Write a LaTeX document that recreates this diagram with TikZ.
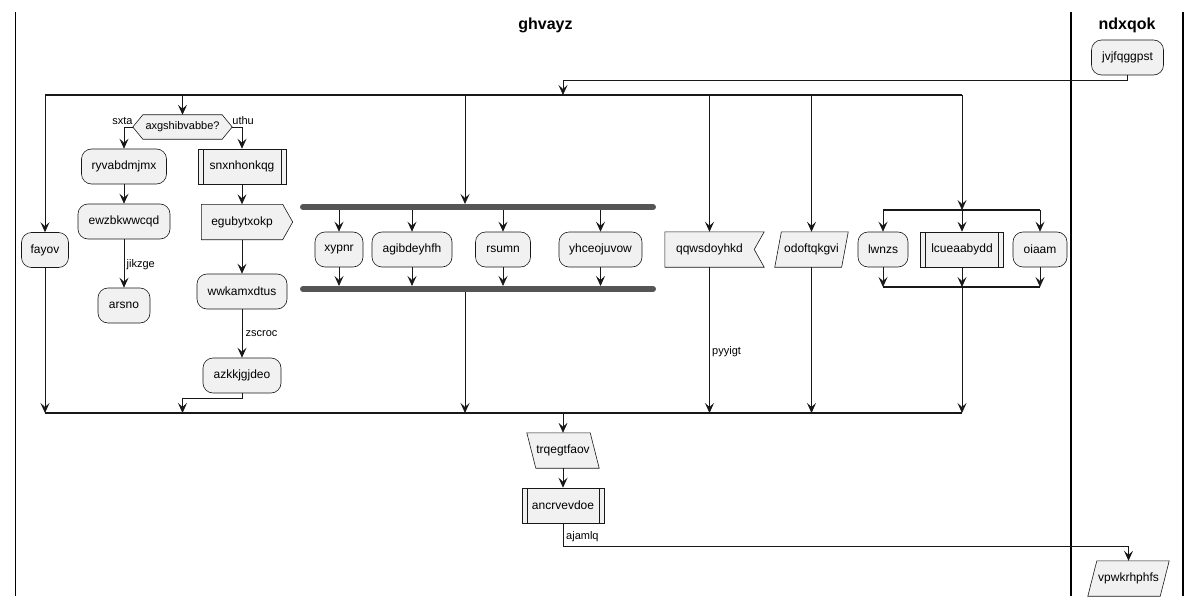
\documentclass[tikz,border=0pt]{standalone}
\usepackage{fontspec}
\setmainfont{Liberation Sans}
\usetikzlibrary{arrows.meta}
\definecolor{boxfill}{HTML}{F1F1F1}
\definecolor{ink}{HTML}{181818}
\definecolor{barc}{HTML}{555555}
\pgfdeclarelayer{bg}
\pgfsetlayers{bg,main}
\begin{document}
\begin{tikzpicture}[x=1pt,y=-1pt,
  txt/.style={inner sep=0pt, minimum height=35pt, font=\fontsize{12}{14}\selectfont},
  act/.style={txt, draw=ink, fill=boxfill, line width=0.6pt, rounded corners=10pt},
  sub/.style={txt, draw=ink, fill=boxfill, line width=0.6pt,
    path picture={\draw[draw=ink, line width=0.6pt]
      ([xshift=5pt]path picture bounding box.north west) -- ([xshift=5pt]path picture bounding box.south west)
      ([xshift=-5pt]path picture bounding box.north east) -- ([xshift=-5pt]path picture bounding box.south east);}},
  shp/.style={draw=ink, fill=boxfill, line width=0.6pt, line join=miter},
  arr/.style={draw=ink, line width=0.8pt, -{Stealth[length=10pt,width=9pt,inset=4pt]}},
  link/.style={draw=ink, line width=0.8pt},
  lbl/.style={font=\fontsize{11}{13}\selectfont, inner sep=0pt},
  lane/.style={line width=1.6pt, draw=black},
  syncbar/.style={line width=1.6pt, draw=ink},
  forkbar/.style={line width=6pt, draw=barc, line cap=round},
  lanetitle/.style={font=\fontsize{16}{19}\selectfont\bfseries, inner sep=0pt}
]
\useasboundingbox (0,0) rectangle (1201,607);

% swimlanes
\draw[lane] (15.5,12) -- (15.5,596);
\draw[lane] (1071,12) -- (1071,596);
\draw[lane] (1183,12) -- (1183,596);
\node[lanetitle] (t1) at (545.5,25) {ghvayz};
\node[lanetitle] (t2) at (1127,25) {ndxqok};

% activities
\node[act, minimum width=72pt] (jv) at (1127.5,57.5) {jvjfqggpst};
\node[act, minimum width=47pt] (fay) at (45,250) {fayov};
\node[txt, minimum width=99pt, minimum height=24pt, font=\fontsize{11}{13}\selectfont] (dec) at (182.5,127) {axgshibvabbe?};
\node[act, minimum width=85pt] (ryv) at (124,166.5) {ryvabdmjmx};
\node[act, minimum width=92pt] (ewz) at (124,221.5) {ewzbkwwcqd};
\node[act, minimum width=52pt] (ars) at (124,305.5) {arsno};
\node[sub, minimum width=88pt] (snx) at (242,166.5) {snxnhonkqg};
\node[txt, minimum width=81pt] (egu) at (242,222) {egubytxokp};
\node[act, minimum width=90pt] (wwk) at (242,291.5) {wwkamxdtus};
\node[act, minimum width=78pt] (azk) at (242,375.5) {azkkjgjdeo};
\node[act, minimum width=48pt] (xyp) at (339,249.5) {xypnr};
\node[act, minimum width=80pt] (agi) at (412,249.5) {agibdeyhfh};
\node[act, minimum width=55pt] (rsu) at (503,249.5) {rsumn};
\node[act, minimum width=83pt] (yhc) at (600.5,249.5) {yhceojuvow};
\node[txt, minimum width=89pt] (qq) at (709.5,249.5) {qqwsdoyhkd};
\node[txt, minimum width=66.5pt] (odo) at (811.5,249.5) {odoftqkgvi};
\node[act, minimum width=50pt] (lwn) at (883,249.5) {lwnzs};
\node[sub, minimum width=83pt] (lcu) at (962,249.5) {lcueaabydd};
\node[act, minimum width=54pt] (oia) at (1040,249.5) {oiaam};
\node[txt, minimum width=63pt] (trq) at (563,450.5) {trqegtfaov};
\node[sub, minimum width=82pt] (anc) at (563,505.5) {ancrvevdoe};
\node[txt, minimum width=72pt] (vpw) at (1128.5,578.5) {vpwkrhphfs};

% page background and outlines of the special shapes
\begin{pgfonlayer}{bg}
\fill[white] (0,0) rectangle (1201,607);
\path[shp] (dec.west) -- ([xshift=10pt]dec.north west) -- ([xshift=-10pt]dec.north east)
  -- (dec.east) -- ([xshift=-10pt]dec.south east) -- ([xshift=10pt]dec.south west) -- cycle;
\path[shp] (egu.north west) -- (egu.north east) -- ([xshift=10pt]egu.east)
  -- (egu.south east) -- (egu.south west) -- cycle;
\path[shp] (qq.north west) -- ([xshift=10pt]qq.north east) -- (qq.east)
  -- ([xshift=10pt]qq.south east) -- (qq.south west) -- cycle;
\path[shp] ([xshift=3.3pt]odo.north west) -- ([xshift=3.3pt]odo.north east)
  -- ([xshift=-3.3pt]odo.south east) -- ([xshift=-3.3pt]odo.south west) -- cycle;
\path[shp] ([xshift=-4.5pt]trq.north west) -- ([xshift=-4.5pt]trq.north east)
  -- ([xshift=4.5pt]trq.south east) -- ([xshift=4.5pt]trq.south west) -- cycle;
\path[shp] ([xshift=4.5pt]vpw.north west) -- ([xshift=4.5pt]vpw.north east)
  -- ([xshift=-4.5pt]vpw.south east) -- ([xshift=-4.5pt]vpw.south west) -- cycle;
\end{pgfonlayer}

% bar end points
\coordinate (sL) at (45,95);   \coordinate (sR) at (962,95);
\coordinate (jL) at (45,413);  \coordinate (jR) at (962,413);
\coordinate (fkL) at (303,207); \coordinate (fkR) at (653,207);
\coordinate (fkIn) at (465,204);
\coordinate (fjL) at (303,289); \coordinate (fjR) at (653,289);
\coordinate (fjIn) at (465,286);
\coordinate (iL) at (883,210);  \coordinate (iR) at (1040,210);
\coordinate (mL) at (883,287);  \coordinate (mR) at (1040,287);

% entry
\draw[arr] (jv.south) -- ++(0,5) -| (trq.north |- sL);

% split branches
\draw[arr] (fay.north |- sL) -- (fay.north);
\draw[arr] (dec.north |- sL) -- (dec.north);
\draw[arr] (fkIn |- sL) -- (fkIn);
\draw[arr] (qq.north |- sL) -- (qq.north);
\draw[arr] (odo.north |- sL) -- (odo.north);
\draw[arr] (lcu.north |- sL) -- (lcu.north |- iL);

% decision
\draw[arr] (dec.west) -| (ryv.north);
\draw[arr] (dec.east) -| (snx.north);
\node[lbl, anchor=east] (lsx) at ([yshift=6pt]dec.west) {sxta};
\node[lbl, anchor=west] (lut) at ([yshift=6pt]dec.east) {uthu};
\draw[arr] (ryv.south) -- (ewz.north);
\draw[arr] (ewz.south) -- (ars.north);
\node[lbl, anchor=west] (ljk) at (126.5,265) {jikzge};
\draw[arr] (snx.south) -- (egu.north);
\draw[arr] (egu.south) -- (wwk.north);
\draw[arr] (wwk.south) -- (azk.north);
\node[lbl, anchor=west] (lzs) at (245.5,334) {zscroc};
\draw[arr] (azk.south) -- ++(0,5) -| (dec.south |- jL);

% parallel block
\foreach \n in {xyp,agi,rsu,yhc}{
  \draw[arr] (\n.north |- fkL) -- (\n.north);
  \draw[arr] (\n.south) -- (\n.south |- fjIn);
}
\draw[arr] (fkIn |- fjL) -- (fkIn |- jL);
\draw[forkbar] (fkL) -- (fkR);
\draw[forkbar] (fjL) -- (fjR);

% other branches into the join
\draw[arr] (fay.south) -- (fay.south |- jL);
\draw[arr] (qq.south) -- (qq.south |- jL);
\node[lbl, anchor=west] (lpy) at (712,352) {pyyigt};
\draw[arr] (odo.south) -- (odo.south |- jL);

% inner split / merge
\foreach \n in {lwn,lcu,oia}{
  \draw[arr] (\n.north |- iL) -- (\n.north);
  \draw[arr] (\n.south) -- (\n.south |- mL);
}
\draw[syncbar] (iL) -- (iR);
\draw[syncbar] (mL) -- (mR);
\draw[arr] (lcu.south |- mL) -- (lcu.south |- jL);

% main split / join bars
\draw[syncbar] (sL) -- (sR);
\draw[syncbar] (jL) -- (jR);

% tail
\draw[arr] (trq.north |- jL) -- (trq.north);
\draw[arr] (trq.south) -- (anc.north);
\draw[arr] (anc.south) -- ++(0,23) -| (vpw.north);
\node[lbl, anchor=west] (laj) at (566,537) {ajamlq};
\end{tikzpicture}
\end{document}
